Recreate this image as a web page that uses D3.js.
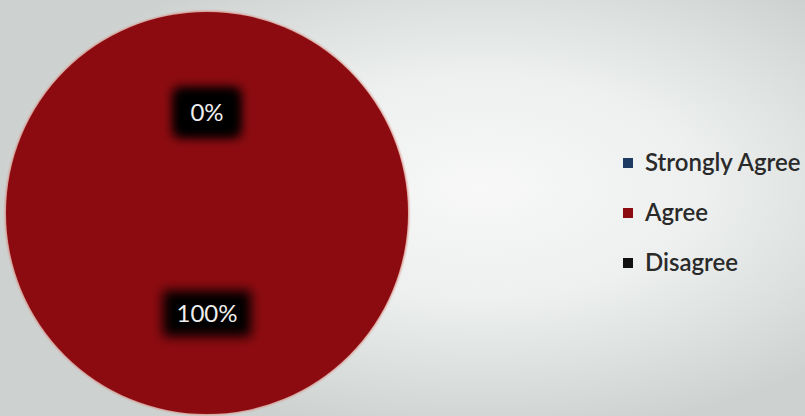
<!DOCTYPE html>
<html>
<head>
<meta charset="utf-8">
<script src="https://cdn.jsdelivr.net/npm/d3@7"></script>
<style>
  body { margin: 0; overflow: hidden; }
  svg { display: block; }
  text { font-family: Lato, "Open Sans", sans-serif; }
</style>
</head>
<body>
<div id="chart"></div>
<script>
const categories = ["Strongly Agree", "Agree", "Disagree"];
const values = [0, 100, 0];
const colors = ["#1d3a63", "#8c0b10", "#111111"];

const width = 805;
const height = 416;

const svg = d3.select("#chart")
  .append("svg")
  .attr("width", width)
  .attr("height", height);

const defs = svg.append("defs");

// photographed slide background: bright in the middle, greyer at the sides
const bg = defs.append("radialGradient")
  .attr("id", "bg")
  .attr("cx", 0.6).attr("cy", 0.45).attr("r", 0.6);
bg.append("stop").attr("offset", "0%").attr("stop-color", "#f7f8f7");
bg.append("stop").attr("offset", "45%").attr("stop-color", "#edf0ef");
bg.append("stop").attr("offset", "100%").attr("stop-color", "#cdd2d1");

const blur = defs.append("filter").attr("id", "soft")
  .attr("x", "-50%").attr("y", "-50%").attr("width", "200%").attr("height", "200%");
blur.append("feGaussianBlur").attr("stdDeviation", 6);

const edge = defs.append("filter").attr("id", "edge");
edge.append("feGaussianBlur").attr("stdDeviation", 1.2);

svg.append("rect")
  .attr("width", width)
  .attr("height", height)
  .attr("fill", "url(#bg)");

const cx = 207, cy = 213, radius = 201;

const pie = d3.pie().sort(null).value(d => d);
const arcs = pie(values);

const arc = d3.arc().innerRadius(0).outerRadius(radius);
const labelArc = d3.arc().innerRadius(radius * 0.5).outerRadius(radius * 0.5);

const g = svg.append("g").attr("transform", `translate(${cx},${cy})`);

// soft pinkish rim
g.append("circle")
  .attr("r", radius + 1)
  .attr("fill", "#d98a80")
  .attr("filter", "url(#edge)");

g.selectAll("path")
  .data(arcs)
  .join("path")
  .attr("d", arc)
  .attr("fill", (d, i) => colors[i]);

const fmt = d => Math.round(d.value / d3.sum(values) * 100) + "%";

const labels = g.selectAll("g.label")
  .data(arcs)
  .join("g")
  .attr("class", "label")
  .attr("transform", d => `translate(${labelArc.centroid(d)})`);

labels.append("rect")
  .attr("x", d => d.value > 0 ? -44 : -32)
  .attr("y", -23)
  .attr("width", d => d.value > 0 ? 88 : 64)
  .attr("height", 46)
  .attr("fill", "#000")
  .attr("filter", "url(#soft)");

labels.append("text")
  .attr("text-anchor", "middle")
  .attr("dy", "0.36em")
  .attr("fill", "#eeeeee")
  .attr("font-size", 24)
  .text(fmt);

const legend = svg.append("g").attr("transform", "translate(623,163)");

const items = legend.selectAll("g")
  .data(categories)
  .join("g")
  .attr("transform", (d, i) => `translate(0,${i * 50})`);

items.append("rect")
  .attr("x", 0).attr("y", -5)
  .attr("width", 10).attr("height", 10)
  .attr("fill", (d, i) => colors[i]);

items.append("text")
  .attr("x", 22)
  .attr("dy", "0.35em")
  .attr("font-size", 24)
  .attr("font-weight", 600)
  .attr("fill", "#2a2a2a")
  .text(d => d);
</script>
</body>
</html>
